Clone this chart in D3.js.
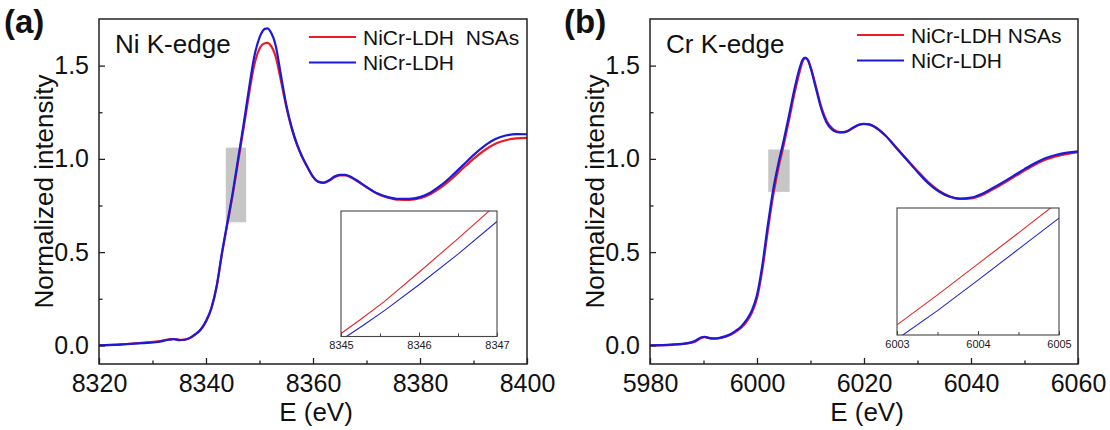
<!DOCTYPE html>
<html><head><meta charset="utf-8">
<script src="https://cdn.jsdelivr.net/npm/d3@7"></script>
<style>
html,body{margin:0;padding:0;background:#fff;}
svg{display:block;font-family:"Liberation Sans",Arial,sans-serif;}
</style></head>
<body>
<svg id="chart" width="1110" height="430"></svg>
<script>
// ---------- DATA ----------
const niE      = [8320,8324,8328,8331,8333,8334,8335,8336,8337,8338,8339,8340,8341,8342,8343,8344,8345,8346,8347,8348,8349,8350,8351,8351.5,8352,8353,8354,8355,8356,8357,8358,8359,8360,8361,8362,8363,8364,8365,8366,8367,8368,8370,8372,8374,8376,8378,8380,8382,8384,8386,8388,8390,8392,8394,8396,8398,8400];
const niNSAs   = [0.000,0.005,0.014,0.021,0.032,0.034,0.030,0.031,0.040,0.058,0.083,0.127,0.196,0.315,0.492,0.650,0.808,0.985,1.160,1.340,1.500,1.590,1.620,1.622,1.612,1.550,1.420,1.280,1.165,1.075,1.008,0.952,0.903,0.876,0.871,0.883,0.902,0.911,0.911,0.902,0.885,0.848,0.813,0.792,0.781,0.780,0.789,0.812,0.848,0.895,0.948,1.000,1.045,1.080,1.100,1.110,1.113];
const niLDH    = [0.000,0.004,0.012,0.018,0.030,0.033,0.028,0.030,0.040,0.060,0.085,0.130,0.200,0.320,0.500,0.660,0.820,1.000,1.180,1.370,1.545,1.650,1.697,1.700,1.685,1.610,1.450,1.290,1.170,1.080,1.010,0.955,0.905,0.878,0.873,0.885,0.905,0.914,0.914,0.905,0.888,0.850,0.815,0.795,0.785,0.785,0.795,0.820,0.860,0.910,0.965,1.020,1.068,1.105,1.125,1.133,1.132];

const crE      = [5980,5984,5987,5988.5,5989.5,5990.2,5991,5992,5993,5994,5995,5996,5997,5998,5999,6000,6001,6002,6003,6004,6005,6006,6007,6008,6008.5,6009,6009.5,6010,6011,6012,6013,6014,6015,6016,6017,6018,6019,6020,6021,6022,6024,6026,6028,6030,6032,6034,6036,6038,6040,6042,6044,6046,6048,6050,6052,6054,6056,6058,6060];
const crNSAs   = [0.000,0.003,0.010,0.020,0.038,0.044,0.039,0.036,0.038,0.045,0.055,0.072,0.093,0.125,0.172,0.252,0.405,0.610,0.800,0.950,1.075,1.210,1.350,1.470,1.520,1.540,1.532,1.495,1.390,1.280,1.205,1.165,1.146,1.143,1.150,1.166,1.182,1.187,1.184,1.171,1.125,1.062,0.998,0.935,0.876,0.830,0.800,0.785,0.788,0.805,0.835,0.868,0.902,0.937,0.970,0.997,1.015,1.027,1.036];
const crLDH    = [0.000,0.004,0.012,0.025,0.042,0.046,0.040,0.037,0.040,0.048,0.060,0.078,0.100,0.135,0.185,0.270,0.430,0.640,0.830,0.975,1.100,1.235,1.375,1.490,1.530,1.543,1.530,1.490,1.380,1.270,1.195,1.158,1.143,1.142,1.150,1.168,1.183,1.188,1.185,1.172,1.125,1.060,0.995,0.930,0.870,0.825,0.797,0.787,0.792,0.812,0.842,0.875,0.910,0.945,0.978,1.005,1.022,1.033,1.040];

// inset (zoomed) data
const niInsetE    = [8345,8345.25,8345.55,8346,8346.5,8347];
const niInsetNSAs = [0.706,0.734,0.769,0.828,0.895,0.964];
const niInsetLDHE = [8345,8345.07,8345.3,8345.57,8346,8346.5,8347];
const niInsetLDH  = [0.693,0.700,0.724,0.753,0.803,0.864,0.929];
const crInsetE    = [6003,6003.5,6004,6004.5,6005];
const crInsetNSAs = [0.820,0.879,0.940,1.001,1.063];
const crInsetLDH  = [0.792,0.848,0.908,0.969,1.030];

// highlight boxes [x0, x1, y0, y1]
const niBox = [8343.7, 8347.5, 0.66, 1.06];
const crBox = [6002.1, 6006.1, 0.823, 1.05];

// ticks
const niTicks = [8320,8340,8360,8380,8400];
const niMinor = [8330,8350,8370,8390];
const crTicks = [5980,6000,6020,6040,6060];
const crMinor = [5990,6010,6030,6050];
const yTicks  = [0,0.5,1.0,1.5];
const yMinor  = [0.25,0.75,1.25];
const niInsetTicks = [8345,8346,8347];
const niInsetMinor = [8345.5,8346.5];
const crInsetTicks = [6003,6004,6005];
const crInsetMinor = [6003.5,6004.5];

const seriesNames = ["NiCr-LDH\u00A0 NSAs","NiCr-LDH"];
const seriesNamesB = ["NiCr-LDH NSAs","NiCr-LDH"];
const colors = ["#ec1c24","#1a1ad8"];

// ---------- DRAW ----------
const svg = d3.select("#chart");
const FONT = '"Liberation Sans",Arial,sans-serif';

function panel(opt){
  const g = svg.append("g");
  const x = d3.scaleLinear().domain(opt.xDomain).range([opt.left, opt.right]);
  const y = d3.scaleLinear().domain([-0.1,1.75]).range([opt.bottom, opt.top]);
  const clipId = "clip"+opt.id;
  svg.append("clipPath").attr("id",clipId).append("rect")
    .attr("x",opt.left).attr("y",opt.top).attr("width",opt.right-opt.left).attr("height",opt.bottom-opt.top);

  // gray box
  g.append("rect")
    .attr("x",x(opt.box[0])).attr("width",x(opt.box[1])-x(opt.box[0]))
    .attr("y",y(opt.box[3])).attr("height",y(opt.box[2])-y(opt.box[3]))
    .attr("fill","#c6c6c6");

  const line = (ys) => d3.line().curve(d3.curveMonotoneX)
      .x((d,i)=>x(opt.E[i])).y((d)=>y(d))(ys);
  const cg = g.append("g").attr("clip-path",`url(#${clipId})`);
  cg.append("path").attr("d",line(opt.s1)).attr("fill","none").attr("stroke",colors[0]).attr("stroke-width",2.2);
  cg.append("path").attr("d",line(opt.s2)).attr("fill","none").attr("stroke",colors[1]).attr("stroke-width",2.2);

  // axes
  const xAxis = d3.axisBottom(x).tickValues(opt.xTicks).tickSize(-6).tickPadding(10).tickFormat(d3.format("d"));
  const xAxisMinor = d3.axisBottom(x).tickValues(opt.xMinor).tickSize(-3.5).tickFormat("");
  const yAxis = d3.axisLeft(y).tickValues(yTicks).tickSize(-6).tickPadding(10).tickFormat(d3.format(".1f"));
  const yAxisMinor = d3.axisLeft(y).tickValues(yMinor).tickSize(-3.5).tickFormat("");
  [ [xAxis,"b"],[xAxisMinor,"b"],[yAxis,"l"],[yAxisMinor,"l"] ].forEach(([ax,s])=>{
    const a = g.append("g").attr("transform", s==="b" ? `translate(0,${opt.bottom})` : `translate(${opt.left},0)`).call(ax);
    a.select(".domain").remove();
    a.selectAll(".tick line").attr("stroke","#222").attr("stroke-width",1.3);
    a.selectAll(".tick text").attr("fill","#111").style("font-size","25px").style("font-family",FONT);
  });
  // frame
  g.append("rect").attr("x",opt.left).attr("y",opt.top).attr("width",opt.right-opt.left).attr("height",opt.bottom-opt.top)
    .attr("fill","none").attr("stroke","#222").attr("stroke-width",1.5);

  // axis titles
  g.append("text").attr("x",(opt.left+opt.right)/2+3).attr("y",421).attr("text-anchor","middle")
    .style("font-size","26px").attr("fill","#111").text("E (eV)");
  g.append("text").attr("transform",`translate(${opt.left-46},${(opt.top+opt.bottom)/2}) rotate(-90)`)
    .attr("text-anchor","middle").style("font-size","26px").attr("fill","#111").text("Normalized intensity");

  // panel label
  g.append("text").attr("x",opt.labX).attr("y",33).style("font-size","33px").style("font-weight","bold")
    .attr("fill","#111").text(opt.label);
  g.append("text").attr("x",opt.left+16).attr("y",53).style("font-size","26px").attr("fill","#111").text(opt.edge);

  // legend
  opt.names.forEach((n,i)=>{
    const ly = opt.legY + i*25.5;
    g.append("line").attr("x1",opt.legX).attr("x2",opt.legX+47).attr("y1",ly).attr("y2",ly)
      .attr("stroke",colors[i]).attr("stroke-width",2);
    g.append("text").attr("x",opt.legX+54).attr("y",ly+7.5).style("font-size","21px").attr("fill","#111")
      .style("white-space","pre").text(n);
  });

  // inset
  const ix = d3.scaleLinear().domain(opt.inX).range([opt.inL, opt.inR]);
  const iy = d3.scaleLinear().domain(opt.inY).range([opt.inB, opt.inT]);
  const iclip = "iclip"+opt.id;
  svg.append("clipPath").attr("id",iclip).append("rect")
    .attr("x",opt.inL).attr("y",opt.inT).attr("width",opt.inR-opt.inL).attr("height",opt.inB-opt.inT);
  g.append("rect").attr("x",opt.inL).attr("y",opt.inT).attr("width",opt.inR-opt.inL).attr("height",opt.inB-opt.inT)
    .attr("fill","#fff");
  const ig = g.append("g").attr("clip-path",`url(#${iclip})`);
  const il = (xs,ys) => d3.line().x((d,i)=>ix(xs[i])).y(d=>iy(d))(ys);
  ig.append("path").attr("d",il(opt.inE1,opt.in1)).attr("fill","none").attr("stroke","#e3262b").attr("stroke-width",1.1);
  ig.append("path").attr("d",il(opt.inE2,opt.in2)).attr("fill","none").attr("stroke","#2323d0").attr("stroke-width",1.1);
  const iax = d3.axisBottom(ix).tickValues(opt.inTicks).tickSize(-4).tickPadding(5).tickFormat(d3.format("d"));
  const iaxm = d3.axisBottom(ix).tickValues(opt.inMinor).tickSize(-3).tickFormat("");
  [iax,iaxm].forEach(ax=>{
    const a = g.append("g").attr("transform",`translate(0,${opt.inB})`).call(ax);
    a.select(".domain").remove();
    a.selectAll(".tick line").attr("stroke","#444").attr("stroke-width",1);
    a.selectAll(".tick text").attr("fill","#222").style("font-size","11px").style("font-family",FONT);
  });
  g.append("rect").attr("x",opt.inL).attr("y",opt.inT).attr("width",opt.inR-opt.inL).attr("height",opt.inB-opt.inT)
    .attr("fill","none").attr("stroke","#444").attr("stroke-width",1.1);
}

panel({id:"a", left:99, right:527, top:19, bottom:364, xDomain:[8320,8400],
  E:niE, s1:niNSAs, s2:niLDH, box:niBox, xTicks:niTicks, xMinor:niMinor,
  label:"(a)", labX:4, edge:"Ni K-edge", names:seriesNames, legX:309, legY:37,
  inX:[8345,8347], inY:[0.70,0.95], inL:341, inR:497, inT:211, inB:336.5,
  inE1:niInsetE, in1:niInsetNSAs, inE2:niInsetLDHE, in2:niInsetLDH, inTicks:niInsetTicks, inMinor:niInsetMinor});

panel({id:"b", left:650, right:1078, top:19, bottom:364, xDomain:[5980,6060],
  E:crE, s1:crNSAs, s2:crLDH, box:crBox, xTicks:crTicks, xMinor:crMinor,
  label:"(b)", labX:564, edge:"Cr K-edge", names:seriesNamesB, legX:857, legY:35,
  inX:[6003,6005], inY:[0.80,1.05], inL:897, inR:1059, inT:208, inB:335,
  inE1:crInsetE, in1:crInsetNSAs, inE2:crInsetE, in2:crInsetLDH, inTicks:crInsetTicks, inMinor:crInsetMinor});
</script>
</body></html>
